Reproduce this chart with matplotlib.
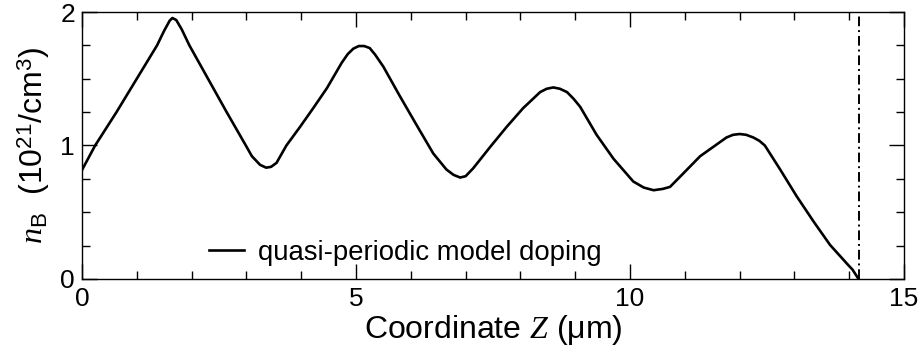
import matplotlib
matplotlib.use("Agg")
import matplotlib.pyplot as plt
from matplotlib.ticker import MultipleLocator

#===== DATA =====#
z_um = [0.00, 0.24, 0.63, 1.00, 1.37, 1.50, 1.60, 1.65, 1.72, 1.82, 1.96, 2.30,
        2.64, 2.99, 3.10, 3.25, 3.36, 3.45, 3.55, 3.73, 3.98, 4.22, 4.47, 4.74,
        4.85, 4.95, 5.05, 5.15, 5.25, 5.35, 5.50, 5.80, 6.11, 6.41, 6.65, 6.78,
        6.90, 7.00, 7.14, 7.45, 7.75, 8.05, 8.36, 8.48, 8.60, 8.72, 8.85, 8.97,
        9.09, 9.39, 9.70, 10.06, 10.25, 10.43, 10.60, 10.73, 10.97, 11.28, 11.52,
        11.76, 11.88, 12.00, 12.12, 12.25, 12.36, 12.46, 12.74, 13.04, 13.35,
        13.65, 13.98, 14.06, 14.17]
n_b = [0.816, 1.00, 1.25, 1.50, 1.75, 1.86, 1.935, 1.955, 1.94, 1.87, 1.75, 1.50,
       1.25, 1.00, 0.92, 0.855, 0.834, 0.84, 0.87, 1.00, 1.14, 1.28, 1.43, 1.62,
       1.685, 1.725, 1.745, 1.745, 1.73, 1.68, 1.59, 1.37, 1.15, 0.94, 0.82, 0.78,
       0.76, 0.77, 0.83, 0.99, 1.14, 1.28, 1.40, 1.425, 1.435, 1.425, 1.40, 1.35,
       1.29, 1.08, 0.90, 0.73, 0.685, 0.665, 0.675, 0.69, 0.79, 0.92, 0.99,
       1.06, 1.08, 1.086, 1.08, 1.06, 1.035, 1.00, 0.82, 0.62, 0.43,
       0.255, 0.105, 0.07, 0.0]
z_edge = 14.18

#===== STYLE =====#
plt.rcParams['font.family'] = ['Liberation Sans', 'DejaVu Sans']
plt.rcParams['mathtext.fontset'] = 'custom'
plt.rcParams['mathtext.rm'] = 'Liberation Sans'
plt.rcParams['mathtext.it'] = 'Liberation Serif:italic'

fig = plt.figure(figsize=(9.21, 3.49), dpi=100)
ax = fig.add_axes([0.089, 0.2006, 0.8926, 0.765])

ax.plot(z_um, n_b, color='black', lw=1.9, label='quasi-periodic model doping')
ax.axvline(z_edge, color='black', lw=1.4, dashes=[5, 2, 1, 2])

ax.set_xlim(0, 15)
ax.set_ylim(0, 2)
ax.xaxis.set_major_locator(MultipleLocator(5))
ax.xaxis.set_minor_locator(MultipleLocator(1))
ax.yaxis.set_major_locator(MultipleLocator(1))
ax.yaxis.set_minor_locator(MultipleLocator(0.25))
ax.tick_params(which='both', direction='in', top=True, right=True, width=1.0,
               labelsize=19)
ax.tick_params(axis='x', which='major', length=11, pad=6)
ax.tick_params(axis='y', which='major', length=11, pad=5)
ax.tick_params(which='minor', length=6)
for s in ax.spines.values():
    s.set_linewidth(1.0)

ax.set_xlabel(r'Coordinate $Z$ ($\mathrm{\mu}$m)', fontsize=23, labelpad=1)
ax.set_ylabel(r'$n_\mathrm{B}$  (10$^{21}$/cm$^3$)', fontsize=23, labelpad=6)

ax.legend(loc='center left', bbox_to_anchor=(0.124, 0.097), frameon=False,
          fontsize=19.8, handlelength=1.3, handletextpad=0.5)

fig.savefig('out.png', dpi=100)
